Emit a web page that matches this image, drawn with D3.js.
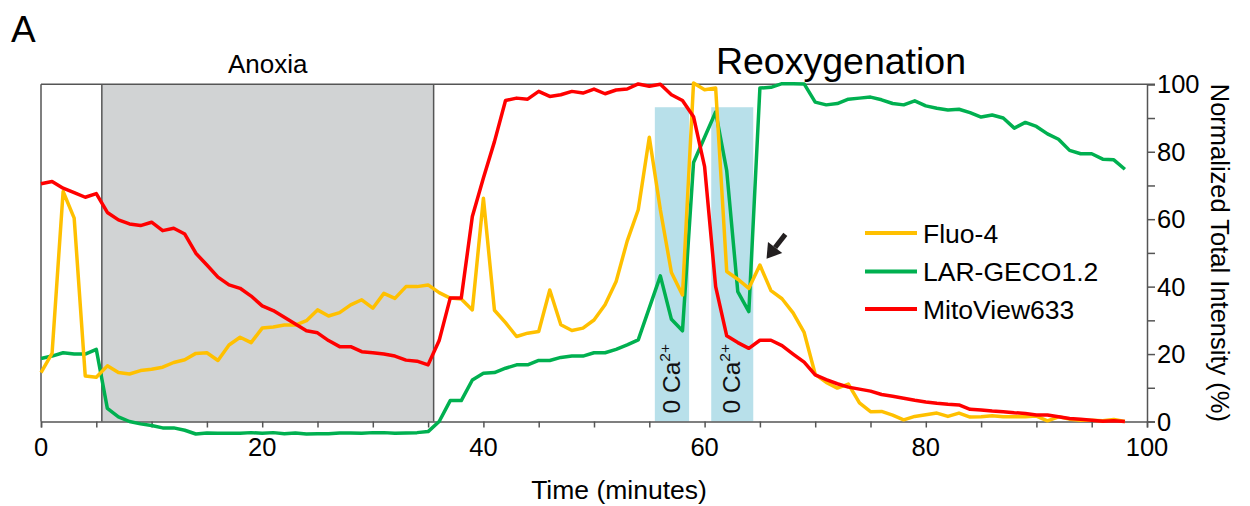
<!DOCTYPE html>
<html>
<head>
<meta charset="utf-8">
<script src="https://cdn.jsdelivr.net/npm/d3@7"></script>
<style>
  body { margin: 0; background: #fff; }
  svg { font-family: 'Liberation Sans', Arial, sans-serif; }
</style>
</head>
<body>
<div id="chart"></div>
<script>
// sample times (minutes)
var minutes = [0, 1, 2, 3, 4, 5, 6, 7, 8, 9, 10, 11, 12, 13, 14, 15, 16, 17, 18, 19,
  20, 21, 22, 23, 24, 25, 26, 27, 28, 29, 30, 31, 32, 33, 34, 35, 36, 37, 38, 39,
  40, 41, 42, 43, 44, 45, 46, 47, 48, 49, 50, 51, 52, 53, 54, 55, 56, 57, 58, 59,
  60, 61, 62, 63, 64, 65, 66, 67, 68, 69, 70, 71, 72, 73, 74, 75, 76, 77, 78, 79,
  80, 81, 82, 83, 84, 85, 86, 87, 88, 89, 90, 91, 92, 93, 94, 95, 96, 97, 98];

var fluo4 = [14.5, 20.2, 68.2, 60.3, 13.5, 13.1, 16.5, 14.5, 14.1, 15.1, 15.5, 16.1, 17.5, 18.3, 20.2, 20.4, 18.1, 22.7, 25.0, 23.4,
  27.7, 28.0, 28.6, 28.6, 29.9, 33.1, 31.3, 32.3, 34.6, 36.1, 33.6, 38.0, 36.5, 40.0, 40.0, 40.5, 38.2, 36.6, 36.3, 33.1,
  66.2, 33.0, 29.3, 25.2, 26.2, 26.7, 39.0, 28.7, 27.0, 27.7, 30.1, 34.6, 41.5, 53.5, 62.8, 84.3, 62.8, 44.2, 37.5, 100.4,
  98.4, 98.9, 44.5, 42.2, 39.5, 46.4, 38.8, 36.4, 32.2, 26.4, 14.0, 11.6, 9.9, 11.1, 5.5, 2.9, 3.0, 1.9, 0.5, 1.5,
  2.0, 2.5, 1.5, 2.5, 1.3, 1.4, 1.7, 1.4, 1.4, 1.4, 1.6, 0.2, 1.4, 0.7, 0.4, 0.4, 0.2, 0.6, 0.0];

var larGeco = [18.7, 19.4, 20.4, 20.0, 20.0, 21.4, 3.9, 1.4, 0.0, -0.7, -1.2, -1.9, -1.9, -2.6, -3.7, -3.4, -3.5, -3.5, -3.5, -3.3,
  -3.5, -3.3, -3.6, -3.4, -3.7, -3.6, -3.6, -3.4, -3.4, -3.5, -3.3, -3.3, -3.5, -3.4, -3.3, -3.0, 0.0, 6.2, 6.2, 12.3,
  14.3, 14.5, 15.8, 16.8, 16.8, 18.1, 18.1, 19.0, 19.4, 19.4, 20.4, 20.4, 21.4, 22.7, 24.2, 33.7, 43.2, 30.3, 26.9, 76.8,
  84.3, 91.8, 74.4, 38.5, 32.6, 98.9, 99.1, 100.2, 100.2, 100.1, 94.7, 93.9, 94.3, 95.6, 95.9, 96.2, 95.4, 94.3, 93.9, 95.1,
  93.6, 92.9, 92.4, 92.6, 91.6, 90.3, 90.9, 90.0, 87.0, 88.7, 87.5, 85.3, 83.7, 80.4, 79.4, 79.4, 77.8, 77.6, 74.8];

var mitoView = [70.5, 71.2, 69.2, 67.9, 66.5, 67.6, 62.0, 59.8, 58.6, 58.1, 59.1, 56.6, 57.3, 55.6, 49.9, 46.4, 42.8, 40.5, 39.5, 37.2,
  34.3, 32.9, 30.9, 28.9, 26.9, 26.3, 24.0, 22.2, 22.2, 20.7, 20.4, 20.0, 19.4, 18.2, 17.9, 16.8, 24.0, 36.6, 36.6, 60.8,
  72.2, 83.0, 95.2, 95.9, 95.6, 97.9, 96.4, 96.9, 97.9, 97.4, 98.6, 97.2, 98.3, 98.6, 100.1, 99.4, 100.0, 96.9, 95.2, 90.4,
  75.6, 40.0, 25.4, 23.4, 21.7, 24.1, 24.1, 22.5, 20.0, 17.6, 13.8, 12.4, 11.2, 10.2, 9.6, 9.0, 8.0, 7.5, 6.9, 6.3,
  5.8, 5.4, 5.1, 4.9, 3.6, 3.4, 3.1, 2.9, 2.6, 2.4, 1.9, 1.9, 1.4, 0.9, 0.7, 0.4, 0.1, 0.2, 0.0];

var seriesNames = ['Fluo-4', 'LAR-GECO1.2', 'MitoView633'];
var seriesColors = ['#ffc000', '#00b050', '#ff0000'];

// shaded periods [start, end] in minutes
var anoxia = [5.5, 35.5];
var zeroCa = [[55.5, 58.6], [60.6, 64.4]];
var zeroCaTop = 93.2;

var xTicks = [0, 20, 40, 60, 80, 100];
var xMinorTicks = d3.range(0, 101, 5);
var yTicks = [0, 20, 40, 60, 80, 100];
var yMinorTicks = d3.range(0, 101, 10);

var width = 1250;
var height = 506;

var x = d3.scaleLinear().domain([0, 100]).range([41, 1147]);
var y = d3.scaleLinear().domain([0, 100]).range([421.5, 84.3]);

var svg = d3.select('#chart').append('svg')
            .attr('width', width)
            .attr('height', height);

// anoxia band
svg.append('rect')
   .attr('x', x(anoxia[0]))
   .attr('y', y(100))
   .attr('width', x(anoxia[1]) - x(anoxia[0]))
   .attr('height', y(0) - y(100))
   .attr('fill', '#d1d3d4');

svg.selectAll('line.anoxia-edge')
   .data(anoxia)
   .enter()
   .append('line')
   .classed('anoxia-edge', true)
   .attr('x1', function(d) { return x(d); })
   .attr('x2', function(d) { return x(d); })
   .attr('y1', y(100))
   .attr('y2', y(0))
   .attr('stroke', '#555')
   .attr('stroke-width', 1.5);

// 0 Ca2+ bands
var caGroup = svg.append('g').classed('zero-ca', true);
caGroup.selectAll('rect')
       .data(zeroCa)
       .enter()
       .append('rect')
       .attr('x', function(d) { return x(d[0]); })
       .attr('y', y(zeroCaTop))
       .attr('width', function(d) { return x(d[1]) - x(d[0]); })
       .attr('height', y(0) - y(zeroCaTop))
       .attr('fill', '#b8e0ea');

var caText = caGroup.selectAll('text')
       .data(zeroCa)
       .enter()
       .append('text')
       .attr('transform', function(d) {
         var cx = x((d[0] + d[1]) / 2) + 8;
         return 'translate(' + cx + ',' + (y(0) - 8) + ') rotate(-90)';
       })
       .attr('font-size', 24.5)
       .attr('fill', '#111');
caText.append('tspan').text('0 Ca');
caText.append('tspan')
      .attr('font-size', 15.5)
      .attr('dy', -10)
      .text('2+');

// frame: top and left
svg.append('line')
   .attr('x1', x(0)).attr('x2', x(100) + 8)
   .attr('y1', y(100)).attr('y2', y(100))
   .attr('stroke', '#555').attr('stroke-width', 1.5);
svg.append('line')
   .attr('x1', x(0)).attr('x2', x(0))
   .attr('y1', y(100)).attr('y2', y(0))
   .attr('stroke', '#555').attr('stroke-width', 1.5);

// bottom axis
var xAxis = svg.append('g')
   .attr('transform', 'translate(0,' + y(0) + ')')
   .call(d3.axisBottom(x).tickValues(xMinorTicks).tickSize(6).tickFormat(''));
xAxis.select('.domain').attr('stroke', '#555').attr('stroke-width', 1.5);
xAxis.selectAll('.tick line').attr('stroke', '#555').attr('stroke-width', 1.5);

svg.append('g')
   .selectAll('text')
   .data(xTicks)
   .enter()
   .append('text')
   .attr('x', function(d) { return x(d); })
   .attr('y', 456)
   .attr('text-anchor', 'middle')
   .attr('font-size', 25.5)
   .text(function(d) { return d; });

// right axis
var yAxis = svg.append('g')
   .attr('transform', 'translate(' + x(100) + ',0)')
   .call(d3.axisRight(y).tickValues(yMinorTicks).tickSize(8).tickFormat(''));
yAxis.select('.domain').attr('stroke', '#555').attr('stroke-width', 1.5);
yAxis.selectAll('.tick line').attr('stroke', '#555').attr('stroke-width', 1.5);

svg.append('g')
   .selectAll('text')
   .data(yTicks)
   .enter()
   .append('text')
   .attr('x', x(100) + 10)
   .attr('y', function(d) { return y(d); })
   .attr('dy', '0.36em')
   .attr('font-size', 25.5)
   .text(function(d) { return d; });

// data lines
var line = d3.line()
             .x(function(d) { return x(d[0]); })
             .y(function(d) { return y(d[1]); });

var seriesValues = [fluo4, larGeco, mitoView];
// draw green first, then yellow, red on top
[1, 0, 2].forEach(function(i) {
  svg.append('path')
     .datum(minutes.map(function(t, j) { return [t, seriesValues[i][j]]; }))
     .attr('d', line)
     .attr('fill', 'none')
     .attr('stroke', seriesColors[i])
     .attr('stroke-width', 3.5)
     .attr('stroke-linejoin', 'round');
});

// arrow pointing at the Fluo-4 peak after the second 0 Ca2+ wash
var arrowTail = [67.3, 55.5];
var arrowTip = [65.6, 48.3];
var ax1 = x(arrowTail[0]), ay1 = y(arrowTail[1]);
var ax2 = x(arrowTip[0]), ay2 = y(arrowTip[1]);
var ang = Math.atan2(ay2 - ay1, ax2 - ax1);
var headLen = 14, headW = 9;
var bx = ax2 - headLen * Math.cos(ang), by = ay2 - headLen * Math.sin(ang);
svg.append('line')
   .attr('x1', ax1).attr('y1', ay1)
   .attr('x2', bx).attr('y2', by)
   .attr('stroke', '#231f20')
   .attr('stroke-width', 5);
svg.append('path')
   .attr('d', 'M' + ax2 + ',' + ay2 +
              'L' + (bx + headW * Math.sin(ang)) + ',' + (by - headW * Math.cos(ang)) +
              'L' + (bx - headW * Math.sin(ang)) + ',' + (by + headW * Math.cos(ang)) + 'Z')
   .attr('fill', '#231f20');

// legend
var legend = svg.append('g').classed('legend', true);
var legendY = [233, 271.5, 309];
seriesNames.forEach(function(name, i) {
  legend.append('line')
        .attr('x1', 865).attr('x2', 917)
        .attr('y1', legendY[i]).attr('y2', legendY[i])
        .attr('stroke', seriesColors[i])
        .attr('stroke-width', 4);
  legend.append('text')
        .attr('x', 923)
        .attr('y', legendY[i])
        .attr('dy', '0.36em')
        .attr('font-size', 26.5)
        .text(name);
});

// titles and labels
svg.append('text')
   .attr('x', 11).attr('y', 42)
   .attr('font-size', 37)
   .text('A');

svg.append('text')
   .attr('x', x((anoxia[0] + anoxia[1]) / 2)).attr('y', 73)
   .attr('text-anchor', 'middle')
   .attr('font-size', 26)
   .text('Anoxia');

svg.append('text')
   .attr('x', 841).attr('y', 74)
   .attr('text-anchor', 'middle')
   .attr('font-size', 37.5)
   .text('Reoxygenation');

svg.append('text')
   .attr('x', 619).attr('y', 499)
   .attr('text-anchor', 'middle')
   .attr('font-size', 26.5)
   .text('Time (minutes)');

svg.append('text')
   .attr('transform', 'translate(1211,' + y(50) + ') rotate(90)')
   .attr('text-anchor', 'middle')
   .attr('font-size', 25.5)
   .text('Normalized Total Intensity (%)');
</script>
</body>
</html>
